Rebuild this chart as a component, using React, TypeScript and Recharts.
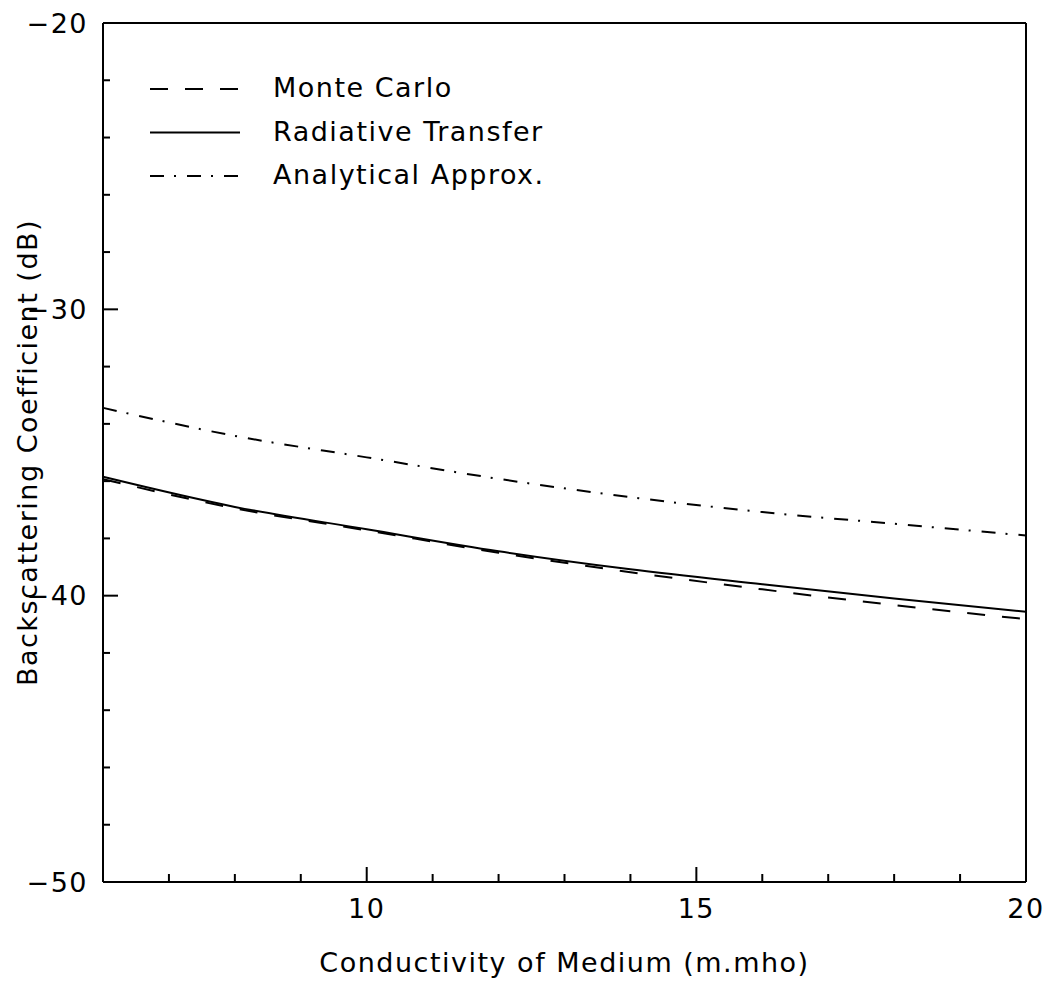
import React from 'react';
import { LineChart, Line, XAxis, YAxis, Legend } from 'recharts';

// ---- data ----
const conductivity = [6, 8, 10, 12, 14, 16, 18, 20];
const monteCarlo = [-35.93, -36.95, -37.72, -38.5, -39.18, -39.78, -40.33, -40.82];
const radiativeTransfer = [-35.85, -36.9, -37.68, -38.45, -39.08, -39.6, -40.1, -40.56];
const analyticalApprox = [-33.44, -34.42, -35.17, -35.92, -36.56, -37.08, -37.49, -37.9];

const xTicks = [6, 7, 8, 9, 10, 11, 12, 13, 14, 15, 16, 17, 18, 19, 20];
const xLabeled = [10, 15, 20];
const yTicks = [-50, -48, -46, -44, -42, -40, -38, -36, -34, -32, -30, -28, -26, -24, -22, -20];
const yLabeled = [-50, -40, -30, -20];

const seriesNames = ['Monte Carlo', 'Radiative Transfer', 'Analytical Approx.'];

const data = conductivity.map((c, i) => ({
  c,
  mc: monteCarlo[i],
  rt: radiativeTransfer[i],
  aa: analyticalApprox[i],
}));

// ---- styling ----
const W = 1055;
const H = 991;
// plot area: left 103, right 1026, top 23, bottom 882
const LEFT_AXIS_W = 80;
const RIGHT_AXIS_W = 10;
const BOTTOM_AXIS_H = 100;
const TOP_AXIS_H = 10;
const MARGIN = { top: 23 - TOP_AXIS_H, right: 29 - RIGHT_AXIS_W, bottom: 109 - BOTTOM_AXIS_H, left: 103 - LEFT_AXIS_W };
const PLOT_TOP = 23;
const PLOT_BOTTOM = 882;
const PLOT_LEFT = 103;
const PLOT_RIGHT = 1026;
const FONT = '"DejaVu Sans", "Liberation Sans", sans-serif';
const FS = 27;
const LS = 1.5;
const INK = '#000';
const DASH_MC = '18 17';
const DASH_AA = '14 10 2 11';

const XTick = (props: any) => {
  const { x, y, payload } = props;
  const major = xLabeled.includes(payload.value);
  const len = major ? 15 : 8;
  return (
    <g>
      <line x1={x} y1={y} x2={x} y2={y - len} stroke={INK} strokeWidth={2} />
      {major && (
        <text x={x} y={y + 36} textAnchor="middle" fontFamily={FONT} fontSize={FS} letterSpacing={LS} fill={INK}>
          {String(payload.value)}
        </text>
      )}
    </g>
  );
};

const fmtY = (v: number) => (v < 0 ? '\u2212' + Math.abs(v) : String(v));

const YTickLeft = (props: any) => {
  const { x, y, payload } = props;
  const major = yLabeled.includes(payload.value);
  const len = major ? 15 : 7;
  return (
    <g>
      <line x1={x} y1={y} x2={x + len} y2={y} stroke={INK} strokeWidth={2} />
      {major && (
        <text x={x - 15} y={y} dy="0.36em" textAnchor="end" fontFamily={FONT} fontSize={FS} letterSpacing={LS} fill={INK}>
          {fmtY(payload.value)}
        </text>
      )}
    </g>
  );
};

const YTickRight = (props: any) => {
  const { x, y, payload } = props;
  const major = yLabeled.includes(payload.value);
  const len = major ? 15 : 8;
  return <line x1={x} y1={y} x2={x - len} y2={y} stroke={INK} strokeWidth={2} />;
};

const yMid = (PLOT_TOP + PLOT_BOTTOM) / 2;
const xMid = (PLOT_LEFT + PLOT_RIGHT) / 2;

const YTitle = () => (
  <text
    x={37}
    y={yMid}
    transform={`rotate(-90, 37, ${yMid})`}
    textAnchor="middle"
    fontFamily={FONT}
    fontSize={FS}
    letterSpacing={LS}
    fill={INK}
  >
    Backscattering Coefficient (dB)
  </text>
);

const XTitle = () => (
  <text x={xMid} y={972} textAnchor="middle" fontFamily={FONT} fontSize={FS} letterSpacing={LS} fill={INK}>
    Conductivity of Medium (m.mho)
  </text>
);

const legendDash: Record<string, string | undefined> = {
  'Monte Carlo': DASH_MC,
  'Radiative Transfer': undefined,
  'Analytical Approx.': DASH_AA,
};

const LegendBox = () => (
  <svg width={360} height={140} style={{ display: 'block', overflow: 'visible' }}>
    {seriesNames.map((name, i) => {
      const cy = 29 + i * 43.5;
      return (
        <g key={name}>
          <line x1={10} y1={cy} x2={100} y2={cy} stroke={INK} strokeWidth={2} strokeDasharray={legendDash[name]} />
          <text x={133} y={cy + 8} fontFamily={FONT} fontSize={FS} letterSpacing={LS} fill={INK}>
            {name}
          </text>
        </g>
      );
    })}
  </svg>
);

export default function App() {
  return (
    <div style={{ position: 'absolute', left: 0, top: 0, width: W, height: H, background: '#fff' }}>
      <LineChart width={W} height={H} data={data} margin={MARGIN}>
        <XAxis
          dataKey="c"
          type="number"
          domain={[6, 20]}
          ticks={xTicks}
          interval={0}
          height={BOTTOM_AXIS_H}
          tickSize={0}
          tickMargin={0}
          tickLine={false}
          tick={XTick}
          axisLine={{ stroke: INK, strokeWidth: 2 }}
          label={XTitle}
        />
        <XAxis
          xAxisId="top"
          orientation="top"
          dataKey="c"
          type="number"
          domain={[6, 20]}
          height={TOP_AXIS_H}
          tick={false}
          tickLine={false}
          axisLine={{ stroke: INK, strokeWidth: 2 }}
        />
        <YAxis
          type="number"
          domain={[-50, -20]}
          ticks={yTicks}
          interval={0}
          width={LEFT_AXIS_W}
          tickSize={0}
          tickMargin={0}
          tickLine={false}
          tick={YTickLeft}
          axisLine={{ stroke: INK, strokeWidth: 2 }}
          label={YTitle}
        />
        <YAxis
          yAxisId="right"
          orientation="right"
          type="number"
          domain={[-50, -20]}
          ticks={yTicks}
          interval={0}
          width={RIGHT_AXIS_W}
          tickSize={0}
          tickMargin={0}
          tickLine={false}
          tick={YTickRight}
          axisLine={{ stroke: INK, strokeWidth: 2 }}
        />
        <Legend
          layout="vertical"
          align="center"
          verticalAlign="middle"
          content={LegendBox}
          wrapperStyle={{ position: 'absolute', left: 140, top: 60, width: 360, height: 140 }}
        />
        <Line
          name={seriesNames[0]}
          dataKey="mc"
          type="monotone"
          stroke={INK}
          strokeWidth={2}
          strokeDasharray={DASH_MC}
          dot={false}
          activeDot={false}
          isAnimationActive={false}
        />
        <Line
          name={seriesNames[1]}
          dataKey="rt"
          type="monotone"
          stroke={INK}
          strokeWidth={2}
          dot={false}
          activeDot={false}
          isAnimationActive={false}
        />
        <Line
          name={seriesNames[2]}
          dataKey="aa"
          type="monotone"
          stroke={INK}
          strokeWidth={2}
          strokeDasharray={DASH_AA}
          dot={false}
          activeDot={false}
          isAnimationActive={false}
        />
      </LineChart>
    </div>
  );
}
